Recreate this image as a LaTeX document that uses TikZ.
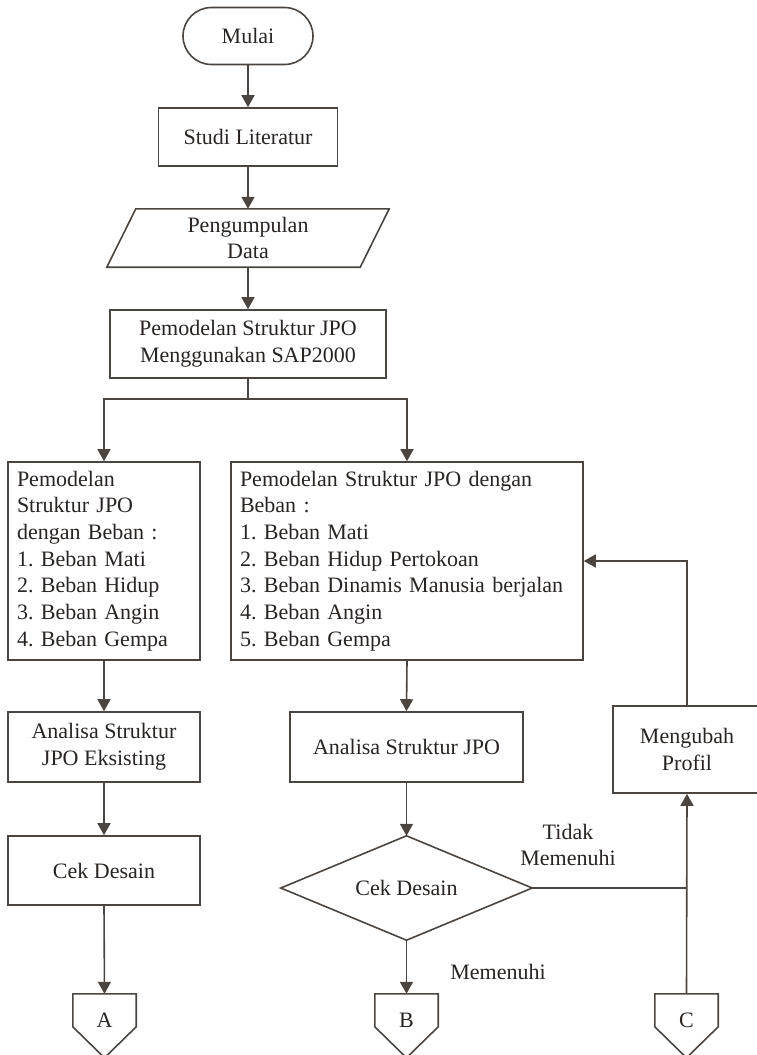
\documentclass[tikz,border=0pt]{standalone}
\usepackage{fontspec}
\setmainfont{Liberation Serif}
\usetikzlibrary{arrows.meta,shapes.misc,calc}
\definecolor{ln}{RGB}{75,69,65}
\definecolor{tx}{RGB}{40,36,34}
\frenchspacing
\begin{document}
\begin{tikzpicture}[x=1pt,y=-1pt,
  every node/.style={font=\fontsize{22}{26.7}\selectfont, text=tx},
  box/.style={draw=ln, line width=1.6pt, rectangle, inner sep=0pt, align=center},
  ghost/.style={rectangle, inner sep=0pt, align=center},
  term/.style={draw=ln, line width=1.6pt, rounded rectangle, inner sep=0pt},
  outline/.style={draw=ln, line width=1.6pt, line join=miter},
  conn/.style={draw=ln, line width=1.6pt},
  arr/.style={conn, -{Triangle[length=12pt,width=13pt]}}]
\useasboundingbox (0,0) rectangle (756,1055);
% nodes
\node[term, minimum width=130pt, minimum height=57pt] (mulai) at (248,36) {Mulai};
\node[box, minimum width=179pt, minimum height=58pt] (studi) at (248,137) {Studi Literatur};
\node[ghost, minimum width=253pt, minimum height=58pt] (data) at (248,238) {Pengumpulan\\Data};
\draw[outline] ([xshift=14.5pt]data.north west) -- ([xshift=14.5pt]data.north east)
  -- ([xshift=-14.5pt]data.south east) -- ([xshift=-14.5pt]data.south west) -- cycle;
\node[box, minimum width=276pt, minimum height=68pt] (sap) at (248,344) {Pemodelan Struktur JPO\\Menggunakan SAP2000};
\node[box, minimum width=192pt, minimum height=198pt, align=left, text width=174pt, inner xsep=9pt] (L1) at (104,561)
  {\frenchspacing Pemodelan\\Struktur JPO\\dengan Beban :\\1. Beban Mati\\2. Beban Hidup\\3. Beban Angin\\4. Beban Gempa};
\node[box, minimum width=352pt, minimum height=198pt, align=left, text width=334pt, inner xsep=9pt] (R1) at (407,561)
  {\frenchspacing Pemodelan Struktur JPO dengan\\Beban :\\1. Beban Mati\\2. Beban Hidup Pertokoan\\3. Beban Dinamis Manusia berjalan\\4. Beban Angin\\5. Beban Gempa};
\node[box, minimum width=192pt, minimum height=70pt] (L2) at (104,747) {Analisa Struktur\\JPO Eksisting};
\node[box, minimum width=192pt, minimum height=69pt] (L3) at (104,870.5) {Cek Desain};
\node[box, minimum width=233pt, minimum height=70pt] (R2) at (406.5,747) {Analisa Struktur JPO};
\node[ghost, minimum width=251pt, minimum height=104pt] (dia) at (406.5,888) {Cek Desain};
\draw[outline] (dia.north) -- (dia.east) -- (dia.south) -- (dia.west) -- cycle;
\node[box, minimum width=148pt, minimum height=87pt] (M) at (687,749.5) {Mengubah\\Profil};
% off-page connectors
\foreach \n/\t/\xx in {A/A/104.5, B/B/406.5, C/C/686.5}{
  \node[ghost, minimum width=63pt, minimum height=52pt] (\n) at (\xx,1020) {\t};
  \draw[outline] ([yshift=-33pt]\n.north west) -- (\n.north west) -- (\n.north east)
    -- ([yshift=-33pt]\n.north east) -- ([yshift=-64pt]\n.north) -- cycle;
}
% labels
\node[align=center] (tidak) at (568,845) {Tidak\\Memenuhi};
\node (memenuhi) at (498,972) {Memenuhi};
% connectors
\coordinate (split) at (248,399);
\coordinate (j) at (686.5,888);
\draw[arr] (mulai.south) -- (studi.north);
\draw[arr] (studi.south) -- (data.north);
\draw[arr] (data.south) -- (sap.north);
\draw[conn] (sap.south) -- (split);
\draw[arr] (split) -| (L1.north);
\draw[arr] (split) -| (R1.north);
\draw[arr] (L1.south) -- (L2.north);
\draw[arr] (L2.south) -- (L3.north);
\draw[arr] (L3.south) -- (A.north);
\draw[arr] (R1.south) -- (R2.north);
\draw[arr] (R2.south) -- (dia.north);
\draw[arr] (dia.south) -- (B.north);
\draw[conn] (dia.east) -- (j);
\draw[arr] (C.north) -- (M.south);
\draw[arr] (M.north) |- (R1.east);
\end{tikzpicture}
\end{document}
